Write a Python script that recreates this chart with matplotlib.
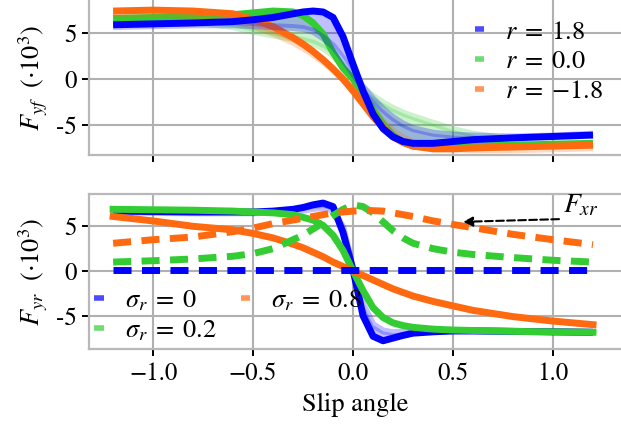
import matplotlib
matplotlib.use("Agg")
import matplotlib.pyplot as plt
from matplotlib.lines import Line2D

plt.rcParams['font.family'] = 'serif'
plt.rcParams['font.serif'] = ['STIXGeneral', 'Liberation Serif', 'DejaVu Serif']
plt.rcParams['mathtext.fontset'] = 'stix'

# slip angle samples (shared by all curves)
alpha = [-1.2, -1.0, -0.8, -0.6, -0.5, -0.4, -0.3, -0.25, -0.2, -0.15, -0.1, -0.05,
         0.0, 0.05, 0.1, 0.15, 0.2, 0.25, 0.3, 0.4, 0.5, 0.6, 0.8, 1.0, 1.2]

# top panel: front lateral force, main curve + lightest curve of each family
fyf_pos = [5.9, 6.0, 6.1, 6.25, 6.45, 6.7, 7.1, 7.3, 7.4, 7.3, 6.7, 4.6,
           1.6, -1.3, -3.8, -5.4, -6.3, -6.8, -7.0, -7.0, -6.8, -6.6, -6.4, -6.25, -6.1]
fyf_pos_lo = [5.7, 5.8, 5.9, 5.9, 5.8, 5.7, 5.6, 5.5, 5.2, 4.5, 3.6, 2.2,
              0.6, -0.9, -2.2, -3.3, -4.2, -4.9, -5.4, -5.9, -6.1, -6.2, -6.3, -6.2, -6.0]
fyf_zero = [6.6, 6.7, 6.8, 7.0, 7.2, 7.4, 7.3, 6.9, 6.1, 4.9, 2.9, 1.2,
            0.0, -1.6, -3.3, -4.9, -6.1, -6.9, -7.3, -7.5, -7.4, -7.3, -7.2, -7.1, -7.0]
fyf_zero_lo = [6.4, 6.4, 6.2, 5.7, 5.2, 4.8, 4.4, 4.2, 3.9, 3.4, 2.6, 1.4,
               0.1, -1.0, -1.9, -2.6, -3.2, -3.7, -4.1, -4.8, -5.5, -6.0, -6.6, -6.9, -7.0]
fyf_neg = [7.4, 7.5, 7.4, 7.1, 6.5, 5.7, 4.5, 3.8, 3.0, 2.1, 1.1, 0.0,
           -1.3, -2.7, -4.1, -5.3, -6.3, -6.9, -7.3, -7.6, -7.6, -7.5, -7.4, -7.3, -7.2]
fyf_neg_lo = [7.1, 7.1, 6.9, 6.4, 5.8, 5.0, 4.0, 3.4, 2.7, 1.9, 1.0, 0.0,
              -1.1, -2.3, -3.5, -4.7, -5.7, -6.4, -6.9, -7.4, -7.6, -7.7, -7.7, -7.6, -7.5]

# bottom panel: rear lateral force (solid) and longitudinal force (dashed)
fyr_0 = [6.7, 6.65, 6.6, 6.6, 6.6, 6.7, 6.9, 7.1, 7.4, 7.6, 7.2, 4.3,
         0.1, -5.0, -7.3, -7.8, -7.5, -7.2, -6.95, -6.8, -6.7, -6.7, -6.75, -6.8, -6.85]
fyr_0_lo = [6.6, 6.55, 6.5, 6.5, 6.5, 6.6, 6.7, 6.8, 7.0, 7.1, 6.8, 4.8,
            0.1, -3.8, -6.0, -6.7, -6.9, -6.8, -6.7, -6.7, -6.7, -6.7, -6.75, -6.8, -6.85]
fyr_02 = [6.9, 6.85, 6.8, 6.7, 6.6, 6.5, 6.3, 6.0, 5.7, 5.1, 4.0, 2.3,
          0.0, -2.2, -4.1, -5.2, -5.8, -6.1, -6.3, -6.5, -6.6, -6.65, -6.75, -6.8, -6.85]
fyr_08 = [6.1, 5.6, 5.0, 4.6, 4.2, 3.7, 3.0, 2.6, 2.1, 1.6, 1.0, 0.5,
          0.0, -0.5, -1.0, -1.5, -2.0, -2.4, -2.8, -3.4, -3.9, -4.4, -5.1, -5.6, -6.0]
fxr_0 = [0.15, 0.15, 0.15, 0.15, 0.15, 0.15, 0.15, 0.15, 0.15, 0.15, 0.15, 0.15,
         0.15, 0.15, 0.15, 0.15, 0.15, 0.15, 0.15, 0.15, 0.15, 0.15, 0.15, 0.15, 0.15]
fxr_02 = [1.0, 1.15, 1.35, 1.65, 1.95, 2.5, 3.5, 4.0, 4.7, 5.4, 6.2, 6.9,
          7.4, 7.2, 6.5, 5.5, 4.5, 3.7, 3.1, 2.5, 2.1, 1.85, 1.5, 1.2, 1.0]
fxr_08 = [3.1, 3.5, 3.8, 4.4, 4.8, 5.3, 5.7, 5.9, 6.1, 6.3, 6.5, 6.6,
          6.7, 6.75, 6.75, 6.7, 6.5, 6.3, 6.1, 5.6, 5.2, 4.85, 4.1, 3.5, 2.95]

top_labels = [r'$r\;=\;1.8$', r'$r\;=\;0.0$', r'$r\;=\;{-1.8}$']
bot_labels = [r'$\sigma_r\;=\;0$', r'$\sigma_r\;=\;0.2$', r'$\sigma_r\;=\;0.8$']

blue, green, orange = '#0000ff', '#33cc33', '#ff6a10'

fig = plt.figure(figsize=(6.21, 4.25), dpi=100)
ax1 = fig.add_axes([0.1435, 0.6346, 0.8565, 0.3654])
ax2 = fig.add_axes([0.1435, 0.178, 0.8565, 0.3655])

lw = 5

def band(ax, y, ylo, c):
    ax.fill_between(alpha, ylo, y, color=c, alpha=0.25, lw=0)
    ax.plot(alpha, ylo, color=c, lw=lw, alpha=0.25, solid_capstyle='butt')
    ax.plot(alpha, y, color=c, lw=lw, solid_capstyle='butt')

band(ax1, fyf_zero, fyf_zero_lo, green)
band(ax1, fyf_neg, fyf_neg_lo, orange)
band(ax1, fyf_pos, fyf_pos_lo, blue)

band(ax2, fyr_0, fyr_0_lo, blue)
ax2.plot(alpha, fyr_02, color=green, lw=lw)
ax2.plot(alpha, fyr_08, color=orange, lw=lw)
for y, c in [(fxr_0, blue), (fxr_02, green), (fxr_08, orange)]:
    ax2.plot(alpha, y, color=c, lw=lw, dashes=(2.6, 1.5), dash_capstyle='butt')

ax2.annotate('', xy=(0.55, 5.5), xytext=(1.03, 5.8),
             arrowprops=dict(arrowstyle='-|>', color='k', lw=1.5, ls='--',
                             mutation_scale=14, shrinkA=0, shrinkB=0))
ax2.text(1.05, 7.3, r'$F_{xr}$', fontsize=20, va='center', ha='left')

for ax, lim in [(ax1, (-8.3, 8.6)), (ax2, (-8.76, 8.61))]:
    ax.set_xlim(-1.32, 1.34)
    ax.set_ylim(*lim)
    ax.set_yticks([-5, 0, 5])
    ax.set_yticklabels(['-5', '0', '5'])
    ax.set_xticks([-1.0, -0.5, 0.0, 0.5, 1.0])
    ax.grid(True, color='#b0b0b0', lw=1.5)
    ax.set_axisbelow(True)
    for s in ax.spines.values():
        s.set_color('#b8b8b8')
        s.set_linewidth(1.6)
    ax.spines['right'].set_visible(False)
    ax.tick_params(direction='out', length=5, width=1.4, color='k', labelsize=18, pad=4)

ax1.spines['top'].set_visible(False)
ax1.tick_params(axis='x', labelbottom=False)
ax2.set_xticklabels(['\u22121.0', '\u22120.5', '0.0', '0.5', '1.0'])

ax1.set_ylabel(r'$F_{yf}\ \ (\cdot 10^3)$', fontsize=19, labelpad=4)
ax2.set_ylabel(r'$F_{yr}\ \ (\cdot 10^3)$', fontsize=19, labelpad=4)
ax2.set_xlabel('Slip angle', fontsize=19, labelpad=5)

def handles(cols):
    return [Line2D([], [], color=c, lw=4, alpha=0.7, solid_capstyle='butt') for c in cols]

ax1.legend(handles([blue, green, orange]), top_labels, loc='upper left',
           bbox_to_anchor=(0.725, 0.87), frameon=False, fontsize=19, borderpad=0,
           handlelength=0.35, handletextpad=0.8, labelspacing=0.2, borderaxespad=0)
ax2.legend(handles([blue, green, orange]), bot_labels, loc='lower left',
           bbox_to_anchor=(0.01, 0.04), frameon=False, fontsize=19, ncol=2, borderpad=0,
           handlelength=0.35, handletextpad=0.8, labelspacing=0.2,
           columnspacing=0.9, borderaxespad=0)

fig.savefig('out.png', dpi=100)
